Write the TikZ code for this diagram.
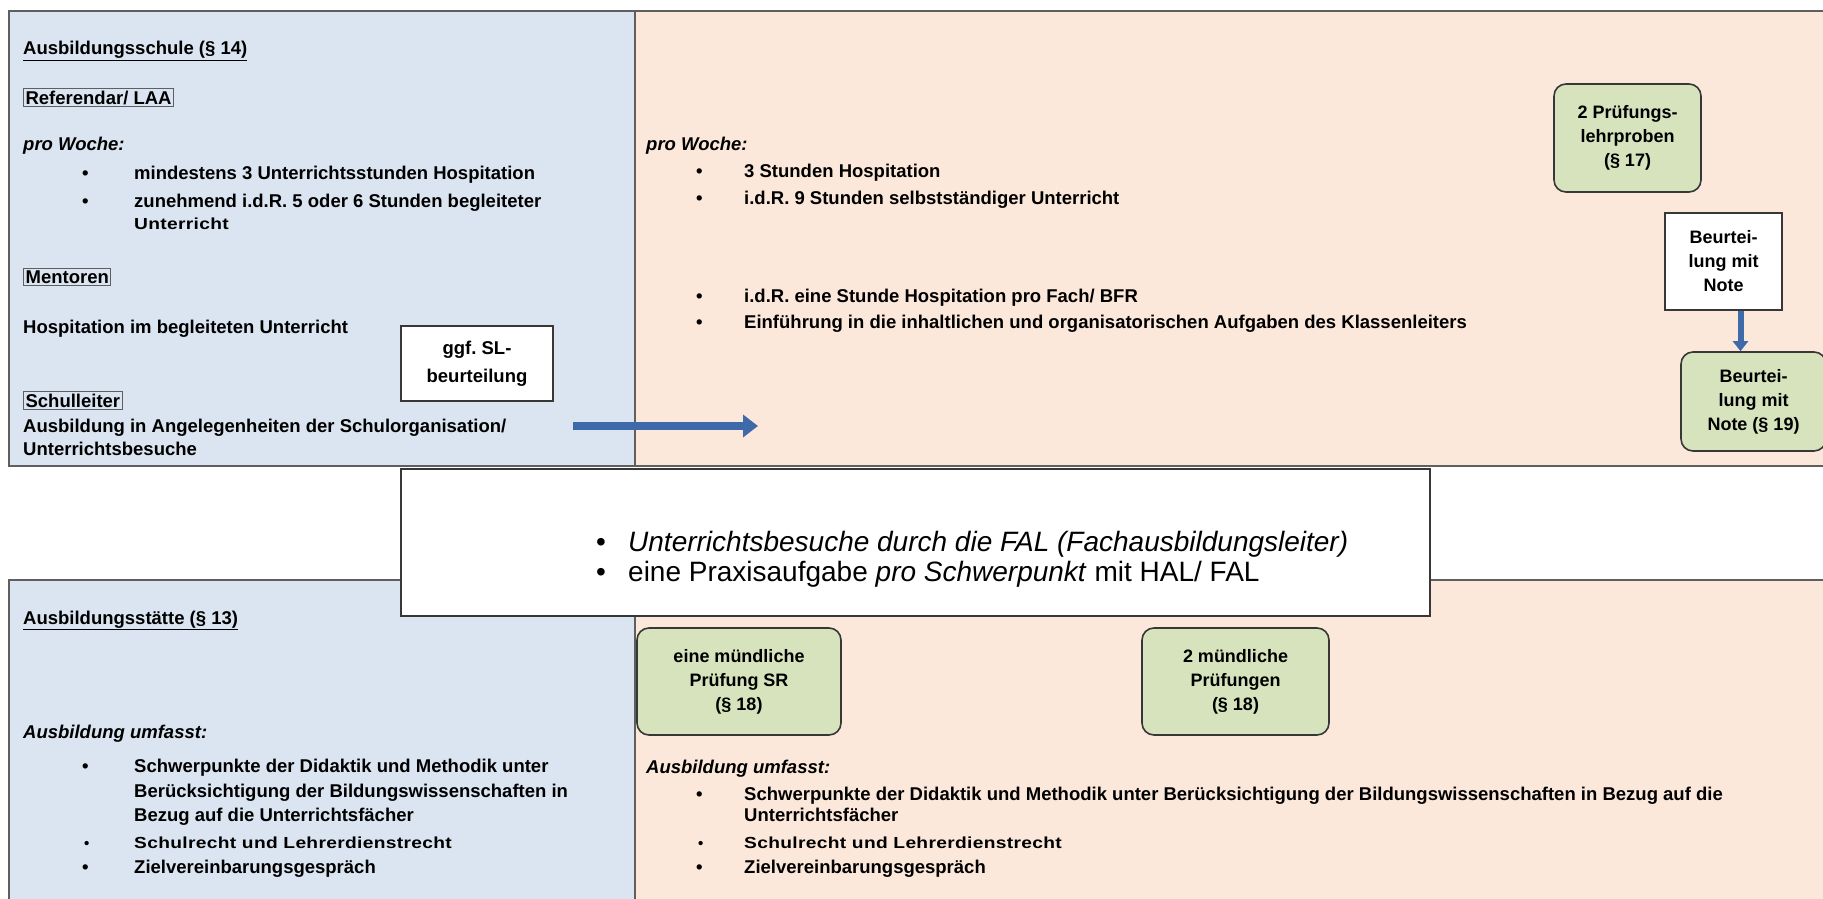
\documentclass[tikz,border=0pt]{standalone}
\usepackage{fontspec}
\setmainfont{Liberation Sans}
\newfontfamily\spaced[FakeStretch=1.2,LetterSpace=2]{Liberation Sans}
\usetikzlibrary{arrows.meta}
\newcommand\fsz[2]{\fontsize{#1}{#2}\selectfont}
\definecolor{bluebg}{RGB}{219,229,241}
\definecolor{peachbg}{RGB}{252,232,218}
\definecolor{greenbg}{RGB}{214,227,188}
\definecolor{framec}{RGB}{95,95,95}
\definecolor{darkframe}{RGB}{55,55,55}
\definecolor{arrowblue}{RGB}{62,106,170}
\frenchspacing
\begin{document}
\begin{tikzpicture}[x=1pt,y=-1pt,
  txt/.style={anchor=base west, inner sep=0pt, font=\bfseries\fsz{18.5}{22}},
  bitxt/.style={txt, font=\bfseries\itshape\fsz{18.5}{22}},
  smalltxt/.style={anchor=base west, inner sep=0pt, font=\spaced\bfseries\fsz{16}{18}},
  lbl/.style={txt, draw=framec, line width=1.2pt, inner sep=2pt},
  panelline/.style={draw=framec, line width=1.8pt},
  greenbox/.style={draw=darkframe, line width=1.6pt, fill=greenbg, rounded corners=12pt, align=center, font=\bfseries\fsz{18}{24}, inner sep=0pt},
  whitebox/.style={draw=darkframe, line width=1.6pt, fill=white, align=center, font=\bfseries\fsz{18}{24}, inner sep=0pt},
  blockarrow/.style={draw=arrowblue, line width=8pt, -{Triangle[length=15pt,width=22pt]}},
  smallarrow/.style={draw=arrowblue, line width=6pt, -{Triangle[length=10pt,width=15pt]}}
]
\useasboundingbox (0,0) rectangle (1823,899);
\clip (0,0) rectangle (1823,899);
\fill[white] (0,0) rectangle (1823,899);
% top panel
\fill[bluebg] (9,11) rectangle (635,466);
\fill[peachbg] (635,11) rectangle (1835,466);
\draw[panelline] (9,11) rectangle (1835,466);
\draw[panelline] (635,11) -- (635,466);
% bottom panel
\fill[bluebg] (9,580) rectangle (635,905);
\fill[peachbg] (635,580) rectangle (1835,905);
\draw[panelline] (9,580) rectangle (1835,905);
\draw[panelline] (635,580) -- (635,905);
% centre box
\node[draw=darkframe, line width=1.6pt, fill=white, minimum width=1029pt, minimum height=147pt, inner sep=0pt] (centre) at (915.5,542.5) {};
\node[anchor=base west, inner sep=0pt, font=\fsz{28}{30}] (cb1) at (596,551) {•};
\node[anchor=base west, inner sep=0pt, font=\itshape\fsz{28}{30}] (ct1) at (628,551) {Unterrichtsbesuche durch die FAL (Fachausbildungsleiter)};
\node[anchor=base west, inner sep=0pt, font=\fsz{28}{30}] (cb2) at (596,581) {•};
\node[anchor=base west, inner sep=0pt, font=\fsz{28}{30}] (ct2) at (628,581) {eine Praxisaufgabe \textit{pro Schwerpunkt} mit HAL/ FAL};

% top left texts
\node[txt] (h1) at (23,55) {\underline{Ausbildungsschule (§ 14)}};
\node[lbl] (ref) at (23,104) {Referendar/ LAA};
\node[bitxt] (pw1) at (23,150) {pro Woche:};
\node[txt] (b11) at (82,179) {•};
\node[txt] (t11) at (134,179) {mindestens 3 Unterrichtsstunden Hospitation};
\node[txt] (b12) at (82,207) {•};
\node[txt] (t12) at (134,207) {zunehmend i.d.R. 5 oder 6 Stunden begleiteter};
\node[smalltxt] (t13) at (134,229) {Unterricht};
\node[lbl] (ment) at (23,283) {Mentoren};
\node[txt] (hosp) at (23,333) {Hospitation im begleiteten Unterricht};
\node[lbl] (sl) at (23,407) {Schulleiter};
\node[txt] (sl1) at (23,432) {Ausbildung in Angelegenheiten der Schulorganisation/};
\node[txt] (sl2) at (23,455) {Unterrichtsbesuche};
\node[whitebox, minimum width=152pt, minimum height=75pt, font=\bfseries\fsz{18.5}{28}] (ggf) at (477,363.5) {ggf. SL-\\beurteilung};

% top right texts
\node[bitxt] (pw2) at (646,150) {pro Woche:};
\node[txt] (b21) at (696,177) {•};
\node[txt] (t21) at (744,177) {3 Stunden Hospitation};
\node[txt] (b22) at (696,204) {•};
\node[txt] (t22) at (744,204) {i.d.R. 9 Stunden selbstständiger Unterricht};
\node[txt] (b23) at (696,302) {•};
\node[txt] (t23) at (744,302) {i.d.R. eine Stunde Hospitation pro Fach/ BFR};
\node[txt] (b24) at (696,328) {•};
\node[txt] (t24) at (744,328) {Einführung in die inhaltlichen und organisatorischen Aufgaben des Klassenleiters};

\node[greenbox, minimum width=147pt, minimum height=108pt] (plp) at (1627.5,138) {2 Prüfungs-\\lehrproben\\(§ 17)};
\node[whitebox, minimum width=117pt, minimum height=97pt] (beu1) at (1723.5,261.5) {Beurtei-\\lung mit\\Note};
\node[greenbox, minimum width=145pt, minimum height=99pt] (beu2) at (1753.5,401.5) {Beurtei-\\lung mit\\Note (§ 19)};
\draw[smallarrow] ([xshift=17pt]beu1.south) -- ([xshift=17pt]beu1.south |- beu2.north);

% arrow from Schulleiter
\coordinate (as) at (573,426);
\coordinate (ae) at (758,426);
\draw[blockarrow] (as) -- (ae);

% bottom left texts
\node[txt] (h2) at (23,624) {\underline{Ausbildungsstätte (§ 13)}};
\node[bitxt] (au1) at (23,738) {Ausbildung umfasst:};
\node[txt] (b31) at (82,772) {•};
\node[txt] (t31) at (134,772) {Schwerpunkte der Didaktik und Methodik unter};
\node[txt] (t32) at (134,797) {Berücksichtigung der Bildungswissenschaften in};
\node[txt] (t33) at (134,821) {Bezug auf die Unterrichtsfächer};
\node[anchor=base west, inner sep=0pt, font=\bfseries\fsz{15}{18}] (b34) at (84,848) {•};
\node[smalltxt] (t34) at (134,848) {Schulrecht und Lehrerdienstrecht};
\node[txt] (b35) at (82,873) {•};
\node[txt] (t35) at (134,873) {Zielvereinbarungsgespräch};

% bottom right texts
\node[greenbox, minimum width=204pt, minimum height=107pt] (sr) at (739,681.5) {eine mündliche\\Prüfung SR\\(§ 18)};
\node[greenbox, minimum width=187pt, minimum height=107pt] (mp) at (1235.5,681.5) {2 mündliche\\Prüfungen\\(§ 18)};
\node[bitxt] (au2) at (646,773) {Ausbildung umfasst:};
\node[txt] (b41) at (696,800) {•};
\node[txt] (t41) at (744,800) {Schwerpunkte der Didaktik und Methodik unter Berücksichtigung der Bildungswissenschaften in Bezug auf die};
\node[txt] (t42) at (744,821) {Unterrichtsfächer};
\node[anchor=base west, inner sep=0pt, font=\bfseries\fsz{15}{18}] (b43) at (698,848) {•};
\node[smalltxt] (t43) at (744,848) {Schulrecht und Lehrerdienstrecht};
\node[txt] (b44) at (696,873) {•};
\node[txt] (t44) at (744,873) {Zielvereinbarungsgespräch};
\end{tikzpicture}
\end{document}
